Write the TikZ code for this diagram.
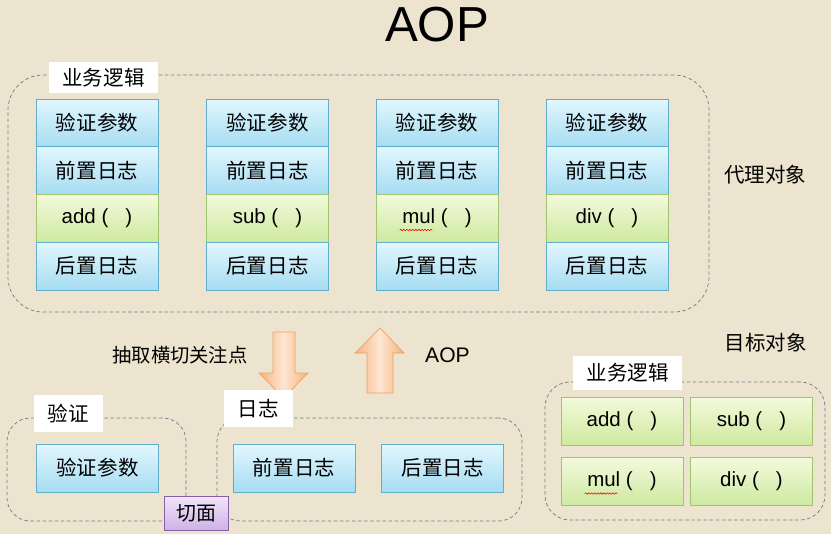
\documentclass[tikz,border=0pt]{standalone}
\usepackage{fontspec}
\setmainfont{Liberation Sans}
\newfontfamily\cjk{Noto Sans CJK SC}
\usetikzlibrary{shadows,decorations.pathmorphing}

\definecolor{paper}{RGB}{236,228,206}
\definecolor{blutop}{RGB}{226,247,253}
\definecolor{blubot}{RGB}{166,220,242}
\definecolor{bluline}{RGB}{96,174,204}
\definecolor{grntop}{RGB}{243,250,220}
\definecolor{grnbot}{RGB}{206,233,160}
\definecolor{grnline}{RGB}{160,196,112}
\definecolor{purtop}{RGB}{242,230,251}
\definecolor{purbot}{RGB}{206,178,230}
\definecolor{purline}{RGB}{136,96,168}
\definecolor{orgedge}{RGB}{238,160,100}
\definecolor{orgdark}{RGB}{248,178,122}
\definecolor{orglight}{RGB}{253,230,212}
\definecolor{dashgray}{RGB}{112,122,142}

\tikzset{
  cell/.style={draw, rectangle, minimum width=3.66cm, minimum height=1.43cm, inner sep=0pt,
    drop shadow={opacity=0.2, shadow xshift=0.8pt, shadow yshift=-0.8pt}},
  bluecell/.style={cell, draw=bluline, top color=blutop, bottom color=blubot,
    font=\cjk\fontsize{17.5}{20}\selectfont},
  greencell/.style={cell, draw=grnline, top color=grntop, bottom color=grnbot,
    font=\fontsize{17.5}{20}\selectfont},
  group/.style={draw=dashgray, dash pattern=on 3pt off 2.2pt, line width=0.6pt, rectangle},
  tag/.style={fill=white, rectangle, inner sep=0pt, font=\cjk\fontsize{17.5}{20}\selectfont},
  note/.style={font=\cjk\fontsize{16.5}{20}\selectfont},
  blockarrow/.style={draw=orgedge, line width=0.6pt, left color=orgdark, right color=orgdark, middle color=orglight},
  squiggle/.style={draw=red, line width=0.5pt, decorate, decoration={snake, amplitude=0.6pt, segment length=2.6pt}}
}

\begin{document}
\begin{tikzpicture}[x=0.03cm, y=-0.03cm]
\fill[paper] (0,0) rectangle (831,534);
\useasboundingbox (0,0) rectangle (831,534);

\node[font=\fontsize{42}{48}\selectfont] (title) at (437,25) {AOP};

% proxy objects
\node[group, rounded corners=1.05cm, minimum width=21.03cm, minimum height=7.11cm] (proxy) at (358.5,193.5) {};
\node[tag, minimum width=3.27cm, minimum height=0.93cm] (proxytag) at (103.5,77.5) {业务逻辑};

\node[bluecell] (v1) at (97,123) {验证参数};
\node[bluecell] (q1) at (97,170.5) {前置日志};
\node[greencell] (m1) at (97,218) {add (~~~)};
\node[bluecell] (h1) at (97,266) {后置日志};

\node[bluecell] (v2) at (267.5,123) {验证参数};
\node[bluecell] (q2) at (267.5,170.5) {前置日志};
\node[greencell] (m2) at (267.5,218) {sub (~~~)};
\node[bluecell] (h2) at (267.5,266) {后置日志};

\node[bluecell] (v3) at (437,123) {验证参数};
\node[bluecell] (q3) at (437,170.5) {前置日志};
\node[greencell] (m3) at (437,218) {mul (~~~)};
\node[bluecell] (h3) at (437,266) {后置日志};

\node[bluecell] (v4) at (607,123) {验证参数};
\node[bluecell] (q4) at (607,170.5) {前置日志};
\node[greencell] (m4) at (607,218) {div (~~~)};
\node[bluecell] (h4) at (607,266) {后置日志};

\draw[squiggle] ([xshift=-1.12cm,yshift=-0.36cm]m3.center) -- ([xshift=-0.14cm,yshift=-0.36cm]m3.center);

\node[note, font=\cjk\fontsize{17.5}{20}\selectfont] (proxylbl) at (765,175) {代理对象};
\node[note, font=\cjk\fontsize{17.5}{20}\selectfont] (targetlbl) at (765.5,343) {目标对象};

% extract / weave arrows
\node[note] (extract) at (180,355) {抽取横切关注点};
\draw[blockarrow] (273,332) -- (295,332) -- (295,373) -- (308,373) -- (283.5,398) -- (259,373) -- (273,373) -- cycle;
\draw[blockarrow] (380,328) -- (404,353) -- (393,353) -- (393,393) -- (367,393) -- (367,353) -- (355,353) -- cycle;
\node[font=\fontsize{18}{20}\selectfont] (weave) at (447.5,355) {AOP};

% aspects
\node[group, rounded corners=0.7cm, minimum width=5.37cm, minimum height=3.09cm] (check) at (96.5,469.5) {};
\node[tag, minimum width=2.07cm, minimum height=1.11cm] (checktag) at (68.5,413.5) {验证};
\node[bluecell] (cv) at (97.5,468) {验证参数};

\node[group, rounded corners=0.7cm, minimum width=9.15cm, minimum height=3.09cm] (log) at (369.5,469.5) {};
\node[tag, minimum width=2.07cm, minimum height=1.11cm] (logtag) at (258.5,408.5) {日志};
\node[bluecell] (lq) at (294,468) {前置日志};
\node[bluecell] (lh) at (442.5,468) {后置日志};

\node[draw=purline, top color=purtop, bottom color=purbot, rectangle, inner sep=0pt,
  minimum width=1.92cm, minimum height=1.02cm, font=\cjk\fontsize{17}{20}\selectfont,
  drop shadow={opacity=0.2, shadow xshift=0.8pt, shadow yshift=-0.8pt}] (aspect) at (196,513) {切面};

% target objects
\node[group, rounded corners=0.75cm, minimum width=8.4cm, minimum height=4.14cm] (target) at (685,451) {};
\node[tag, minimum width=3.27cm, minimum height=1.02cm] (targettag) at (627.5,373) {业务逻辑};
\node[greencell] (tadd) at (622,421) {add (~~~)};
\node[greencell] (tsub) at (751.5,421) {sub (~~~)};
\node[greencell] (tmul) at (622,481.5) {mul (~~~)};
\node[greencell] (tdiv) at (751.5,481.5) {div (~~~)};

\draw[squiggle] ([xshift=-1.12cm,yshift=-0.36cm]tmul.center) -- ([xshift=-0.14cm,yshift=-0.36cm]tmul.center);
\end{tikzpicture}
\end{document}
